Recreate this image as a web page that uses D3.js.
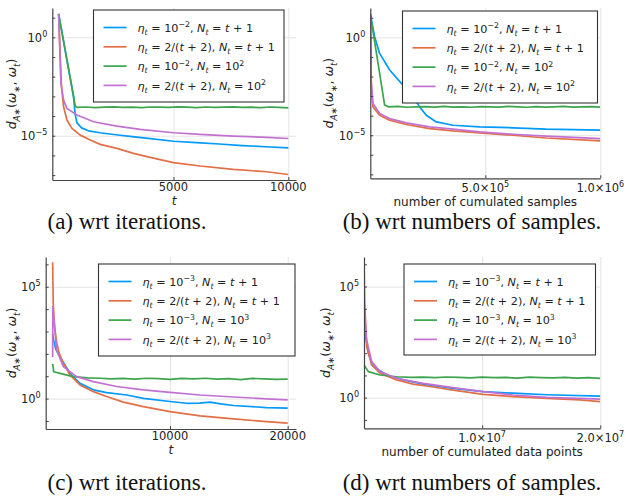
<!DOCTYPE html>
<html>
<head>
<meta charset="utf-8">
<script src="https://cdn.jsdelivr.net/npm/d3@7"></script>
<style>
  body { margin: 0; background: #fff; }
  text { font-family: "DejaVu Sans", sans-serif; fill: #222; }
</style>
</head>
<body>
<script>
// series values. x = t (or samples), v = log10 of d_A*(w*, w_t)

// (a) wrt iterations, t
const aBlueT = [1, 650, 720, 800, 1000, 1300, 1800, 2500, 3200, 4000, 5000, 6000, 7000, 8000, 9000, 10000];
const aBlueV = [1.19, -3.0, -3.9, -4.35, -4.6, -4.75, -4.85, -4.95, -5.05, -5.15, -5.28, -5.35, -5.42, -5.5, -5.56, -5.62];
const aOrangeT = [1, 116, 217, 362, 580, 942, 1377, 1812, 2536, 3261, 3986, 5000, 6159, 7609, 9058, 10000];
const aOrangeV = [1.19, -2.34, -3.53, -4.2, -4.63, -4.97, -5.22, -5.44, -5.64, -5.9, -6.1, -6.37, -6.54, -6.71, -6.83, -6.97];
const aGreenT = [1, 725, 800, 1200, 1600, 2000, 2400, 2800, 3200, 3600, 4000, 4400, 4800, 5200, 5600, 6000, 6400, 6800, 7200, 7600, 8000, 8400, 8800, 9200, 9600, 10000];
const aGreenV = [1.19, -3.49, -3.56, -3.54, -3.57, -3.55, -3.53, -3.56, -3.55, -3.57, -3.54, -3.55, -3.56, -3.53, -3.55, -3.57, -3.54, -3.56, -3.55, -3.53, -3.56, -3.55, -3.57, -3.54, -3.56, -3.58];
const aPurpleT = [1, 101, 217, 362, 797, 1522, 2536, 3551, 5000, 6159, 7609, 9058, 10000];
const aPurpleV = [1.19, -2.34, -3.19, -3.61, -3.95, -4.29, -4.51, -4.68, -4.85, -4.93, -5.02, -5.08, -5.14];

// (b) wrt number of cumulated samples
const bBlueN = [0, 18841, 40580, 84058, 142029, 185507, 214493, 243478, 286957, 359420, 475362, 620290, 765217, 1000000];
const bBlueV = [1.19, 0.03, -0.82, -1.67, -2.44, -3.04, -3.55, -3.98, -4.32, -4.49, -4.57, -4.62, -4.69, -4.74];
const bOrangeN = [0, 4348, 11594, 40580, 84058, 156522, 257971, 359420, 475362, 620290, 765217, 1000000];
const bOrangeV = [1.19, -2.5, -3.55, -3.98, -4.23, -4.45, -4.66, -4.78, -4.88, -5.0, -5.14, -5.29];
const bGreenN = [0, 62319, 80000, 120000, 160000, 200000, 240000, 280000, 320000, 360000, 400000, 440000, 480000, 520000, 560000, 600000, 640000, 680000, 720000, 760000, 800000, 840000, 880000, 920000, 960000, 1000000];
const bGreenV = [1.19, -3.46, -3.55, -3.53, -3.57, -3.55, -3.54, -3.56, -3.53, -3.56, -3.55, -3.57, -3.54, -3.55, -3.56, -3.53, -3.55, -3.57, -3.54, -3.56, -3.55, -3.53, -3.56, -3.55, -3.54, -3.56];
const bPurpleN = [0, 4348, 11594, 40580, 84058, 156522, 257971, 359420, 475362, 620290, 765217, 1000000];
const bPurpleV = [1.19, -2.3, -3.38, -3.89, -4.15, -4.37, -4.57, -4.69, -4.83, -4.95, -5.05, -5.17];

// (c) wrt iterations, t
const cBlueT = [31, 120, 300, 650, 1500, 2350, 3490, 4620, 6320, 7740, 10000, 11420, 12500, 13400, 14300, 15400, 18200, 20000];
const cBlueV = [2.9, 2.6, 2.2, 1.87, 1.13, 0.68, 0.39, 0.27, 0.16, 0.01, -0.13, -0.21, -0.2, -0.16, -0.24, -0.31, -0.4, -0.43];
const cOrangeT = [31, 80, 200, 370, 600, 940, 1500, 2350, 3490, 4620, 6040, 7740, 10000, 12560, 15400, 18200, 20000];
const cOrangeV = [6.1, 4.2, 3.2, 2.5, 2.0, 1.58, 1.06, 0.61, 0.31, 0.09, -0.16, -0.36, -0.58, -0.77, -0.91, -1.03, -1.1];
const cGreenT = [31, 120, 650, 1780, 3000, 4050, 5000, 6000, 7000, 8000, 9000, 10000, 11000, 12000, 13000, 14000, 15000, 16000, 17000, 18000, 19000, 20000];
const cGreenV = [1.55, 1.2, 1.13, 0.98, 0.93, 0.91, 0.88, 0.9, 0.87, 0.91, 0.89, 0.86, 0.9, 0.88, 0.91, 0.87, 0.89, 0.85, 0.9, 0.88, 0.86, 0.87];
const cPurpleT = [31, 40, 370, 940, 2070, 3490, 5470, 7740, 10000, 12560, 15400, 18200, 20000];
const cPurpleV = [1.85, 4.1, 2.17, 1.43, 0.98, 0.76, 0.54, 0.39, 0.28, 0.16, 0.07, -0.01, -0.06];

// (d) wrt number of cumulated data points
const dBlueN = [1000, 366197, 788732, 1915493, 3323944, 5014085, 7549296, 10084507, 12619718, 15436620, 20000000];
const dBlueV = [3.2, 2.0, 1.4, 1.02, 0.8, 0.61, 0.42, 0.27, 0.2, 0.13, 0.07];
const dOrangeN = [1000, 60000, 225352, 647887, 1352113, 2760563, 4169014, 5577465, 7549296, 10084507, 12619718, 15436620, 18253521, 20000000];
const dOrangeV = [6.1, 4.3, 2.3, 1.47, 1.1, 0.8, 0.61, 0.5, 0.34, 0.15, 0.05, -0.03, -0.1, -0.18];
const dGreenN = [0, 366197, 1352113, 2760563, 4000000, 5000000, 6000000, 7000000, 8000000, 9000000, 10000000, 11000000, 12000000, 13000000, 14000000, 15000000, 16000000, 17000000, 18000000, 19000000, 20000000];
const dGreenV = [1.47, 1.17, 1.02, 0.94, 0.91, 0.92, 0.9, 0.93, 0.91, 0.89, 0.92, 0.9, 0.91, 0.88, 0.92, 0.9, 0.89, 0.91, 0.88, 0.9, 0.87];
const dPurpleN = [0, 1000, 225352, 647887, 1352113, 2760563, 5014085, 7549296, 10084507, 12619718, 15436620, 20000000];
const dPurpleV = [1.85, 4.1, 2.6, 1.62, 1.17, 0.87, 0.64, 0.45, 0.27, 0.12, 0.01, -0.07];

// tick labels
const aXTicks = [5000, 10000];
const bXTicks = [500000, 1000000];
const cXTicks = [10000, 20000];
const dXTicks = [10000000, 20000000];
const bXTickLabels = [["5.0×10", "5"], ["1.0×10", "6"]];
const dXTickLabels = [["1.0×10", "7"], ["2.0×10", "7"]];
const abYLabeled = [0, -5];
const cdYLabeled = [5, 0];

// legend labels: [text, kind]  i italic, b subscript, p superscript
const legendAB = [
  [["η", "i"], ["t", "bi"], [" = 10", ""], ["−2", "p"], [", ", ""], ["N", "i"], ["t", "bi"], [" = ", ""], ["t", "i"], [" + 1", ""]],
  [["η", "i"], ["t", "bi"], [" = 2/(", ""], ["t", "i"], [" + 2), ", ""], ["N", "i"], ["t", "bi"], [" = ", ""], ["t", "i"], [" + 1", ""]],
  [["η", "i"], ["t", "bi"], [" = 10", ""], ["−2", "p"], [", ", ""], ["N", "i"], ["t", "bi"], [" = 10", ""], ["2", "p"]],
  [["η", "i"], ["t", "bi"], [" = 2/(", ""], ["t", "i"], [" + 2), ", ""], ["N", "i"], ["t", "bi"], [" = 10", ""], ["2", "p"]]
];
const legendCD = [
  [["η", "i"], ["t", "bi"], [" = 10", ""], ["−3", "p"], [", ", ""], ["N", "i"], ["t", "bi"], [" = ", ""], ["t", "i"], [" + 1", ""]],
  [["η", "i"], ["t", "bi"], [" = 2/(", ""], ["t", "i"], [" + 2), ", ""], ["N", "i"], ["t", "bi"], [" = ", ""], ["t", "i"], [" + 1", ""]],
  [["η", "i"], ["t", "bi"], [" = 10", ""], ["−3", "p"], [", ", ""], ["N", "i"], ["t", "bi"], [" = 10", ""], ["3", "p"]],
  [["η", "i"], ["t", "bi"], [" = 2/(", ""], ["t", "i"], [" + 2), ", ""], ["N", "i"], ["t", "bi"], [" = 10", ""], ["3", "p"]]
];
const yLabelParts = [["d", "i"], ["A", "bi"], ["∗", "b"], ["(", ""], ["ω", "i"], ["∗", "b"], [", ", ""], ["ω", "i"], ["t", "bi"], [")", ""]];
const captions = ["(a) wrt iterations.", "(b) wrt numbers of samples.", "(c) wrt iterations.", "(d) wrt numbers of samples."];

const colors = ["#009af9", "#e26f46", "#3da44d", "#c271d2"];

const svg = d3.select("body").append("svg").attr("width", 626).attr("height", 500);

// write text made of pieces with sub / superscripts
function rich(sel, parts, fs) {
  let shift = 0;
  parts.forEach(([t, k]) => {
    let target = 0;
    if (k.includes("b")) target = 0.28 * fs;
    if (k.includes("p")) target = -0.42 * fs;
    const ts = sel.append("tspan").text(t).attr("dy", target - shift);
    shift = target;
    if (target !== 0) ts.attr("font-size", fs * 0.7);
    if (k.includes("i")) ts.attr("font-style", "italic");
  });
}

function zip(xs, vs) {
  return xs.map((x, i) => [x, Math.pow(10, vs[i])]);
}

const panels = [
  { id: "a", l: 52.3, r: 296, t: 8, b: 180, xd: [-274, 10335], yd: [-7.25, 1.49],
    series: [zip(aBlueT, aBlueV), zip(aOrangeT, aOrangeV), zip(aGreenT, aGreenV), zip(aPurpleT, aPurpleV)],
    xTicks: aXTicks, xTickLabels: null, yLab: abYLabeled, xLabel: [["t", "i"]],
    leg: { x: 93.5, y: 10, w: 190.5, h: 92, labels: legendAB }, yLabelX: 16 },
  { id: "b", l: 370.3, r: 600.3, t: 8, b: 178.3, xd: [0, 1000000], yd: [-7.2, 1.5],
    series: [zip(bBlueN, bBlueV), zip(bOrangeN, bOrangeV), zip(bGreenN, bGreenV), zip(bPurpleN, bPurpleV)],
    xTicks: bXTicks, xTickLabels: bXTickLabels, yLab: abYLabeled, xLabel: [["number of cumulated samples", ""]],
    leg: { x: 402.5, y: 11, w: 195, h: 92, labels: legendAB }, yLabelX: 333 },
  { id: "c", l: 45.7, r: 296, t: 257, b: 429, xd: [-561, 20705], yd: [-1.36, 6.33],
    series: [zip(cBlueT, cBlueV), zip(cOrangeT, cOrangeV), zip(cGreenT, cGreenV), zip(cPurpleT, cPurpleV)],
    xTicks: cXTicks, xTickLabels: null, yLab: cdYLabeled, xLabel: [["t", "i"]],
    leg: { x: 98.5, y: 264, w: 196.5, h: 92, labels: legendCD }, yLabelX: 16 },
  { id: "d", l: 364, r: 600.3, t: 257, b: 428.3, xd: [0, 20000000], yd: [-1.38, 6.33],
    series: [zip(dBlueN, dBlueV), zip(dOrangeN, dOrangeV), zip(dGreenN, dGreenV), zip(dPurpleN, dPurpleV)],
    xTicks: dXTicks, xTickLabels: dXTickLabels, yLab: cdYLabeled, xLabel: [["number of cumulated data points", ""]],
    leg: { x: 404, y: 264, w: 191.5, h: 91, labels: legendCD }, yLabelX: 330 }
];

panels.forEach(p => {
  const g = svg.append("g");
  const x = d3.scaleLinear().domain(p.xd).range([p.l, p.r]);
  const y = d3.scaleLog().domain([Math.pow(10, p.yd[0]), Math.pow(10, p.yd[1])]).range([p.b, p.t]);

  // grid
  g.append("g").attr("transform", `translate(0,${p.b})`)
    .call(d3.axisBottom(x).tickValues(p.xTicks).tickSize(-(p.b - p.t)).tickFormat(""))
    .call(s => s.select(".domain").remove())
    .call(s => s.selectAll("line").attr("stroke", "#e4e4e4").attr("stroke-width", 1));
  g.append("g").attr("transform", `translate(${p.l},0)`)
    .call(d3.axisLeft(y).tickValues(p.yLab.map(e => Math.pow(10, e))).tickSize(-(p.r - p.l)).tickFormat(""))
    .call(s => s.select(".domain").remove())
    .call(s => s.selectAll("line").attr("stroke", "#e4e4e4").attr("stroke-width", 1));

  // curves
  const clipId = "clip-" + p.id;
  g.append("clipPath").attr("id", clipId).append("rect")
    .attr("x", p.l).attr("y", p.t).attr("width", p.r - p.l).attr("height", p.b - p.t);
  const line = d3.line().x(d => x(d[0])).y(d => y(d[1]));
  p.series.forEach((s, i) => {
    g.append("path").datum(s).attr("d", line).attr("clip-path", `url(#${clipId})`)
      .attr("fill", "none").attr("stroke", colors[i]).attr("stroke-width", 1.7)
      .attr("stroke-linejoin", "round");
  });

  // axes: left and bottom spines with small inner ticks
  const decades = d3.range(Math.ceil(p.yd[0]), Math.floor(p.yd[1]) + 1).map(e => Math.pow(10, e));
  const ya = g.append("g").attr("transform", `translate(${p.l},0)`)
    .call(d3.axisLeft(y).tickValues(decades).tickSizeInner(-3).tickSizeOuter(0).tickFormat(""));
  const xa = g.append("g").attr("transform", `translate(0,${p.b})`)
    .call(d3.axisBottom(x).tickValues(p.xTicks).tickSizeInner(-3).tickSizeOuter(0).tickFormat(""));
  [ya, xa].forEach(a => {
    a.select(".domain").attr("stroke", "#444").attr("stroke-width", 1.2);
    a.selectAll(".tick line").attr("stroke", "#444");
  });

  // y tick labels
  p.yLab.forEach(e => {
    const t = g.append("text").attr("x", p.l - 5).attr("y", y(Math.pow(10, e)) + 4.5)
      .attr("text-anchor", "end").attr("font-size", 11.5);
    rich(t, [["10", ""], [e < 0 ? "−" + (-e) : String(e), "p"]], 11.5);
  });

  // x tick labels
  p.xTicks.forEach((v, i) => {
    const t = g.append("text").attr("x", x(v)).attr("text-anchor", "middle").attr("font-size", 11.5);
    if (p.xTickLabels) {
      t.attr("y", p.b + 14);
      rich(t, [[p.xTickLabels[i][0], ""], [p.xTickLabels[i][1], "p"]], 11.5);
    } else {
      t.attr("y", p.b + 11).text(v);
    }
  });

  // axis titles
  const xl = g.append("text").attr("x", (p.l + p.r) / 2).attr("y", p.b + (p.xTickLabels ? 27.5 : 25))
    .attr("text-anchor", "middle").attr("font-size", 12);
  rich(xl, p.xLabel, 12);
  const yl = g.append("text").attr("transform", `translate(${p.yLabelX},${(p.t + p.b) / 2}) rotate(-90)`)
    .attr("text-anchor", "middle").attr("font-size", 12.5);
  rich(yl, yLabelParts, 12.5);

  // legend
  const L = p.leg;
  g.append("rect").attr("x", L.x).attr("y", L.y).attr("width", L.w).attr("height", L.h)
    .attr("fill", "#fff").attr("stroke", "#333").attr("stroke-width", 1.1);
  L.labels.forEach((parts, i) => {
    const ry = L.y + 17.5 + i * 19.3;
    g.append("line").attr("x1", L.x + 10).attr("x2", L.x + 33).attr("y1", ry).attr("y2", ry)
      .attr("stroke", colors[i]).attr("stroke-width", 1.7);
    const t = g.append("text").attr("x", L.x + 44).attr("y", ry + 4.2).attr("font-size", 11.2);
    rich(t, parts, 11.2);
  });
});

// captions
const capPos = [[127, 229], [472, 229], [127, 490], [472, 490]];
captions.forEach((c, i) => {
  svg.append("text").attr("x", capPos[i][0]).attr("y", capPos[i][1]).attr("text-anchor", "middle")
    .style("font-family", "'Liberation Serif', serif").attr("font-size", 23).style("fill", "#111").text(c);
});
</script>
</body>
</html>
